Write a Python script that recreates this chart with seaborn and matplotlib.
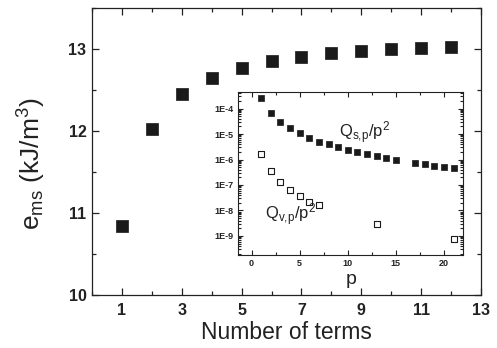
import matplotlib
matplotlib.use("Agg")
import matplotlib.pyplot as plt
import matplotlib.ticker as mticker
import seaborn as sns
import numpy as np
import pandas as pd

# ---- data ----
terms = [1, 2, 3, 4, 5, 6, 7, 8, 9, 10, 11, 12]
e_ms = [10.84, 12.02, 12.45, 12.65, 12.77, 12.85, 12.90, 12.95, 12.975, 12.995, 13.015, 13.03]

p_s = [1, 2, 3, 4, 5, 6, 7, 8, 9, 10, 11, 12, 13, 14, 15, 17, 18, 19, 20, 21]
q_s = [2.7e-4, 6.7e-5, 2.9e-5, 1.7e-5, 1.07e-5, 7.2e-6, 5.0e-6, 4.0e-6, 3.0e-6, 2.4e-6,
       2.0e-6, 1.67e-6, 1.35e-6, 1.17e-6, 9.8e-7, 7.6e-7, 6.7e-7, 5.8e-7, 5.2e-7, 4.7e-7]

p_v = [1, 2, 3, 4, 5, 6, 7, 13, 21]
q_v = [1.67e-6, 3.5e-7, 1.26e-7, 6.2e-8, 3.6e-8, 2.2e-8, 1.58e-8, 2.9e-9, 7.6e-10]

main_xticks = [1, 3, 5, 7, 9, 11, 13]
main_yticks = [10, 11, 12, 13]
inset_xticks = [0, 5, 10, 15, 20]
inset_yticks = [1e-4, 1e-5, 1e-6, 1e-7, 1e-8, 1e-9]
inset_yticklabels = ["1E-4", "1E-5", "1E-6", "1E-7", "1E-8", "1E-9"]

sns.set_style("ticks")
plt.rcParams['font.family'] = ['Liberation Sans', 'DejaVu Sans']
plt.rcParams['mathtext.fontset'] = 'custom'
plt.rcParams['mathtext.rm'] = 'Liberation Sans'
plt.rcParams['mathtext.it'] = 'Liberation Sans'
plt.rcParams['mathtext.bf'] = 'Liberation Sans:bold'

fig = plt.figure(figsize=(4.97, 3.48), dpi=100)
ax = fig.add_axes([0.185, 0.152, 0.783, 0.825])

df_main = pd.DataFrame({"terms": terms, "e": e_ms})
sns.scatterplot(data=df_main, x="terms", y="e", marker="s", s=72, color="#1a1a1a",
                edgecolor="#1a1a1a", linewidth=0.5, ax=ax, zorder=3)
ax.set_xlim(0, 13)
ax.set_ylim(10, 13.5)
ax.set_xticks(main_xticks)
ax.set_yticks(main_yticks)
ax.xaxis.set_minor_locator(mticker.MultipleLocator(1))
ax.yaxis.set_minor_locator(mticker.MultipleLocator(0.5))
ax.tick_params(which="both", direction="in", top=True, right=True, width=0.9, colors="#222222")
ax.tick_params(which="major", length=5)
ax.tick_params(which="minor", length=3)
for lab in ax.get_xticklabels() + ax.get_yticklabels():
    lab.set_fontweight("bold")
    lab.set_fontsize(11.5)
ax.tick_params(axis="x", which="major", pad=6, labelcolor="#222222")
ax.tick_params(axis="y", which="major", pad=4, labelcolor="#222222")
ax.set_xlabel("Number of terms", fontsize=16.5, labelpad=2, color="#222222")
ax.set_ylabel(r"$\mathregular{e_{ms}}$ (kJ/m$\mathregular{^3}$)", fontsize=19, color="#222222")
ax.yaxis.set_label_coords(-0.113, 0.457)
for sp in ax.spines.values():
    sp.set_linewidth(0.9)
    sp.set_color("#222222")

# ---- inset ----
ins = fig.add_axes([0.479, 0.267, 0.453, 0.468])
df_s = pd.DataFrame({"p": p_s, "q": q_s})
df_v = pd.DataFrame({"p": p_v, "q": q_v})
sns.scatterplot(data=df_s, x="p", y="q", marker="s", s=24, color="#1a1a1a",
                edgecolor="#1a1a1a", linewidth=0.5, ax=ins, zorder=3)
sns.scatterplot(data=df_v, x="p", y="q", marker="s", s=20, facecolor="white",
                edgecolor="#1a1a1a", linewidth=0.8, ax=ins, zorder=3)
ins.set_yscale("log")
ins.set_xlim(-1.4, 22)
ins.set_ylim(10**-9.75, 10**-3.36)
ins.set_xticks(inset_xticks)
ins.xaxis.set_minor_locator(mticker.MultipleLocator(2.5))
ins.set_yticks(inset_yticks)
ins.set_yticklabels(inset_yticklabels)
ins.yaxis.set_minor_locator(mticker.LogLocator(base=10, subs=np.arange(2, 10), numticks=20))
ins.yaxis.set_minor_formatter(mticker.NullFormatter())
ins.tick_params(which="both", direction="in", top=True, right=True, width=0.8, colors="#222222")
ins.tick_params(which="major", length=3.5, labelsize=6.5, pad=3)
ins.tick_params(which="minor", length=2)
for lab in ins.get_xticklabels() + ins.get_yticklabels():
    lab.set_fontweight("bold")
ins.set_xlabel("p", fontsize=14, labelpad=2, color="#222222")
ins.set_ylabel("")
for sp in ins.spines.values():
    sp.set_linewidth(0.8)
    sp.set_color("#222222")

ins.text(9.1, 1.1e-5, r"$\mathregular{Q_{s{,}p}/p^2}$", fontsize=12, color="#222222", va="center")
ins.text(1.4, 7.0e-9, r"$\mathregular{Q_{v{,}p}/p^2}$", fontsize=12, color="#222222", va="center")

fig.savefig("out.png", dpi=100)
